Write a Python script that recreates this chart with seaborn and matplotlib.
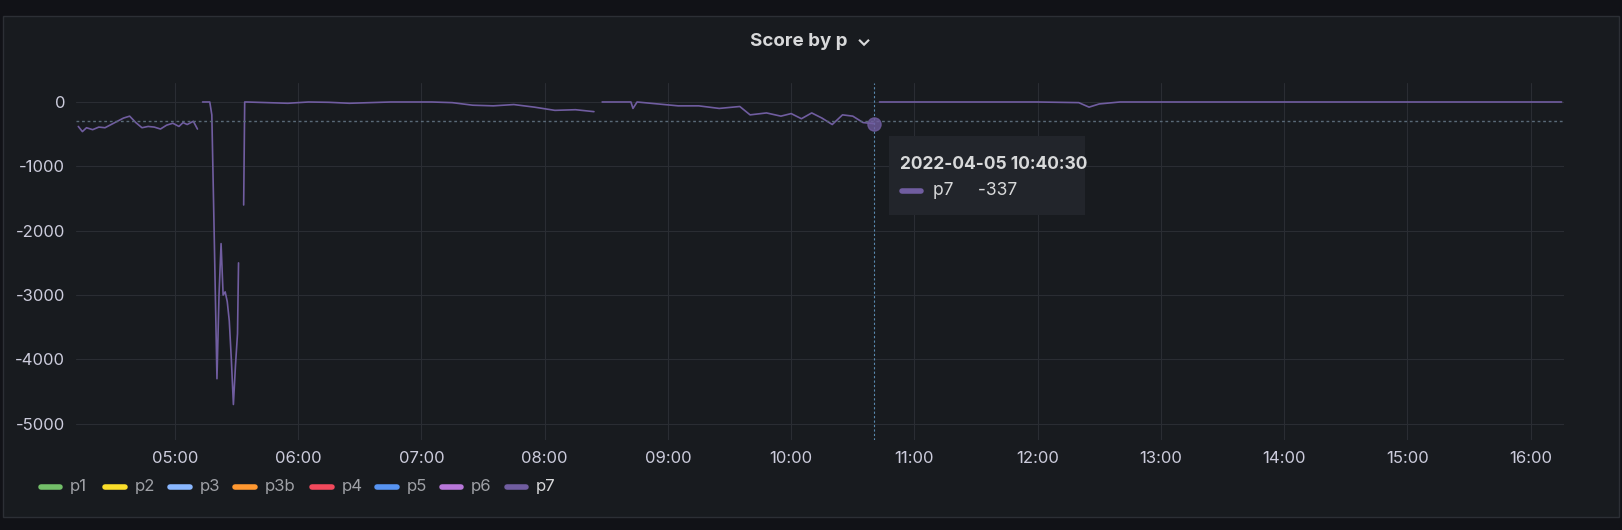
import numpy as np
import pandas as pd
import matplotlib
matplotlib.use("Agg")
import matplotlib.pyplot as plt
import matplotlib.dates as mdates
import seaborn as sns

times = ["04:13","04:15","04:17","04:20","04:23","04:26","04:29","04:32","04:35","04:38","04:41","04:44","04:47","04:50","04:53","04:56","04:59","05:02","05:04","05:06","05:09","05:11",
         "05:12",
         "05:13.5","05:17","05:18","05:19","05:20.5","05:21.5","05:22.5","05:23.5","05:24.5","05:25.5","05:26.5","05:27.5","05:28.5","05:29.5","05:30.5","05:31",
         "05:32",
         "05:33.5","05:34","05:35","05:45","05:55","06:05","06:15","06:25","06:35","06:45","06:55","07:05","07:15","07:25","07:35","07:45","07:55","08:05","08:15","08:24",
         "08:26",
         "08:28","08:35","08:42","08:43","08:45","08:55","09:05","09:15","09:25","09:35","09:40","09:48","09:55","10:00","10:05","10:10","10:15","10:20","10:25","10:30","10:35","10:40.5",
         "10:42",
         "10:43","11:00","11:30","12:00","12:20","12:25","12:30","12:40","13:00","14:00","15:00","16:00","16:15"]
scores = [-380,-460,-400,-430,-390,-400,-350,-300,-250,-220,-320,-400,-380,-390,-420,-360,-330,-380,-320,-350,-300,-420,
          None,
          0,0,-200,-1800,-4300,-3000,-2200,-3000,-2950,-3100,-3400,-4000,-4700,-4100,-3600,-2500,
          None,
          -1600,0,0,-10,-20,0,-5,-20,-10,0,0,0,-10,-50,-60,-40,-80,-130,-120,-150,
          None,
          0,0,0,-100,0,-30,-60,-60,-100,-70,-200,-170,-220,-180,-260,-170,-250,-350,-200,-220,-320,-337,
          None,
          0,0,0,0,-10,-80,-30,0,0,0,0,0,0]
series = "p7"
legend_names = ["p1","p2","p3","p3b","p4","p5","p6","p7"]
legend_colors = ["#73BF69","#FADE2A","#8AB8FF","#FF9830","#F2495C","#5794F2","#B877D9","#705DA0"]
threshold = -300
hover_time = "10:40.5"
hover_value = -337

def to_dt(s):
    h, m = s.split(":")
    return pd.Timestamp("2022-04-05") + pd.Timedelta(hours=int(h), minutes=float(m))

seg, k = [], 0
for v in scores:
    if v is None:
        k += 1
    seg.append(k)
df = pd.DataFrame({"time": [to_dt(t) for t in times],
                   "score": [np.nan if v is None else v for v in scores],
                   "seg": seg}).dropna()

sns.set_theme(style="dark")
plt.rcParams['font.family'] = ['Inter', 'DejaVu Sans']
plt.rcParams['axes.unicode_minus'] = False
fig = plt.figure(figsize=(16.22, 5.30), dpi=100, facecolor="#111217")
panel = plt.Rectangle((0.002, 0.025), 0.996, 0.945, transform=fig.transFigure,
                      facecolor="#181b1f", edgecolor="#2c2f35", lw=1, zorder=-10)
fig.patches.append(panel)
ax = fig.add_axes([0.047, 0.17, 0.917, 0.674])
ax.set_facecolor("#181b1f")
sns.lineplot(data=df, x="time", y="score", units="seg", estimator=None, ax=ax, color="#705DA0", lw=1.2)
ax.axhline(threshold, color="#5a6a78", ls=(0, (2, 2)), lw=1)
ht = to_dt(hover_time)
ax.axvline(ht, color="#5a8ab0", ls=(0, (2, 2)), lw=0.8)
ax.scatter([ht], [hover_value], s=90, color="#705DA0", alpha=0.8, zorder=5)
ax.set_xlim(to_dt("04:12"), to_dt("16:16"))
ax.set_ylim(-5250, 300)
ax.set_yticks([0, -1000, -2000, -3000, -4000, -5000])
ax.xaxis.set_major_locator(mdates.HourLocator())
ax.xaxis.set_major_formatter(mdates.DateFormatter("%H:%M"))
ax.grid(True, color="#2a2d33", lw=0.8)
for s in ax.spines.values():
    s.set_visible(False)
ax.tick_params(colors="#ccccdc", labelsize=12, length=0, pad=8)
ax.set_xlabel(""); ax.set_ylabel("")
# tooltip
fig.patches.append(plt.Rectangle((0.548, 0.595), 0.121, 0.148, transform=fig.transFigure,
                                 facecolor="#22252b", edgecolor="none", zorder=10))
fig.text(0.555, 0.69, "2022-04-05 10:40:30", color="#d8d9da", fontsize=12.5, weight="bold", va="center", zorder=11)
fig.add_artist(plt.Line2D([0.556, 0.568], [0.64, 0.64], transform=fig.transFigure, color="#705DA0", lw=4, zorder=11))
fig.text(0.575, 0.64, "p7     -337", color="#d8d9da", fontsize=12.5, va="center", zorder=11)
fig.text(0.5, 0.922, "Score by p  ⌄", color="#d8d9da", fontsize=13.5, weight="bold", ha="center", va="center")
# legend
x = 0.025
for n, c in zip(legend_names, legend_colors):
    fig.add_artist(plt.Line2D([x, x + 0.012], [0.082, 0.082], transform=fig.transFigure, color=c, lw=4))
    fig.text(x + 0.018, 0.082, n, color="#d8d9da" if n == "p7" else "#9fa1a6", fontsize=12, va="center")
    x += 0.0475 if n == "p3b" else 0.04
fig.savefig("out.png", dpi=100, facecolor=fig.get_facecolor())
